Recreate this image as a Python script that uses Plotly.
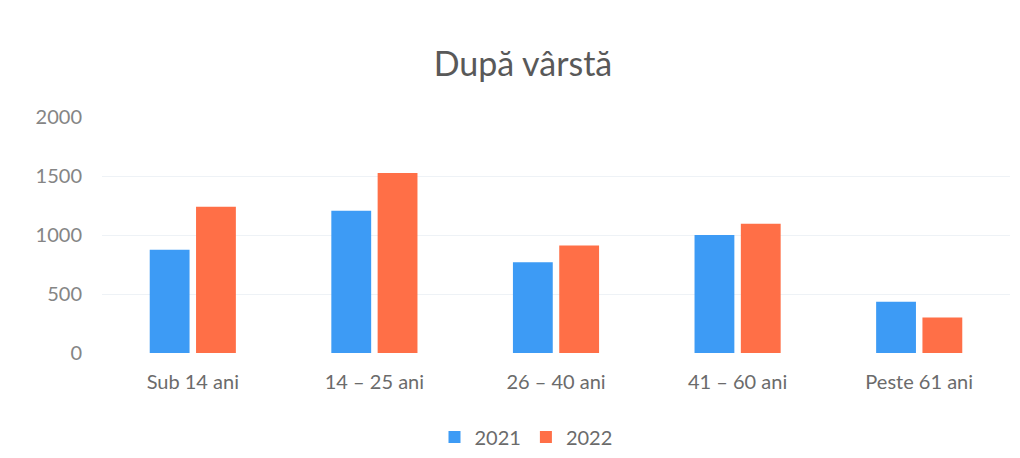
import plotly.graph_objects as go

categories = ["Sub 14 ani", "14 – 25 ani", "26 – 40 ani", "41 – 60 ani", "Peste 61 ani"]
values_2021 = [875, 1205, 770, 1000, 435]
values_2022 = [1240, 1525, 910, 1095, 300]
y_ticks = [0, 500, 1000, 1500, 2000]

FONT = "Lato, 'Open Sans', sans-serif"
GREY = "#6b6b6b"

W, H = 1012, 450  # page body adds an 8px margin

fig = go.Figure()
fig.add_trace(go.Bar(name="2021", x=categories, y=values_2021, marker_color="#3d9bf5", marker_line_width=0))
fig.add_trace(go.Bar(name="2022", x=categories, y=values_2022, marker_color="#ff6f47", marker_line_width=0))

fig.update_layout(
    width=W, height=H,
    margin=dict(l=94, r=10, t=109, b=105, autoexpand=False),
    paper_bgcolor="white", plot_bgcolor="white",
    barmode="group", bargap=0.49, bargroupgap=0.14,
    title=dict(text="După vârstă", x=515 / W, xanchor="center", y=1 - 56 / H, yanchor="middle",
               font=dict(family=FONT, size=34, color="#595959")),
    font=dict(family=FONT, size=20, color=GREY),
    legend=dict(orientation="h", x=518 / W, xanchor="center", xref="container",
                y=1 - 429 / H, yanchor="middle", yref="container",
                font=dict(family=FONT, size=20, color=GREY), itemwidth=30, traceorder="normal"),
    showlegend=True,
)
fig.update_yaxes(range=[0, 2000], tickvals=y_ticks, showgrid=True, gridcolor="#eef2f6", gridwidth=1,
                 zeroline=False, showline=False, ticks="", ticklabelstandoff=19, automargin=False,
                 tickfont=dict(family=FONT, size=20, color="#858585"))
fig.update_xaxes(showline=False, ticks="", showgrid=False, ticklabelstandoff=15, automargin=False,
                 tickfont=dict(family=FONT, size=20, color=GREY))

fig.write_html("out.html")
